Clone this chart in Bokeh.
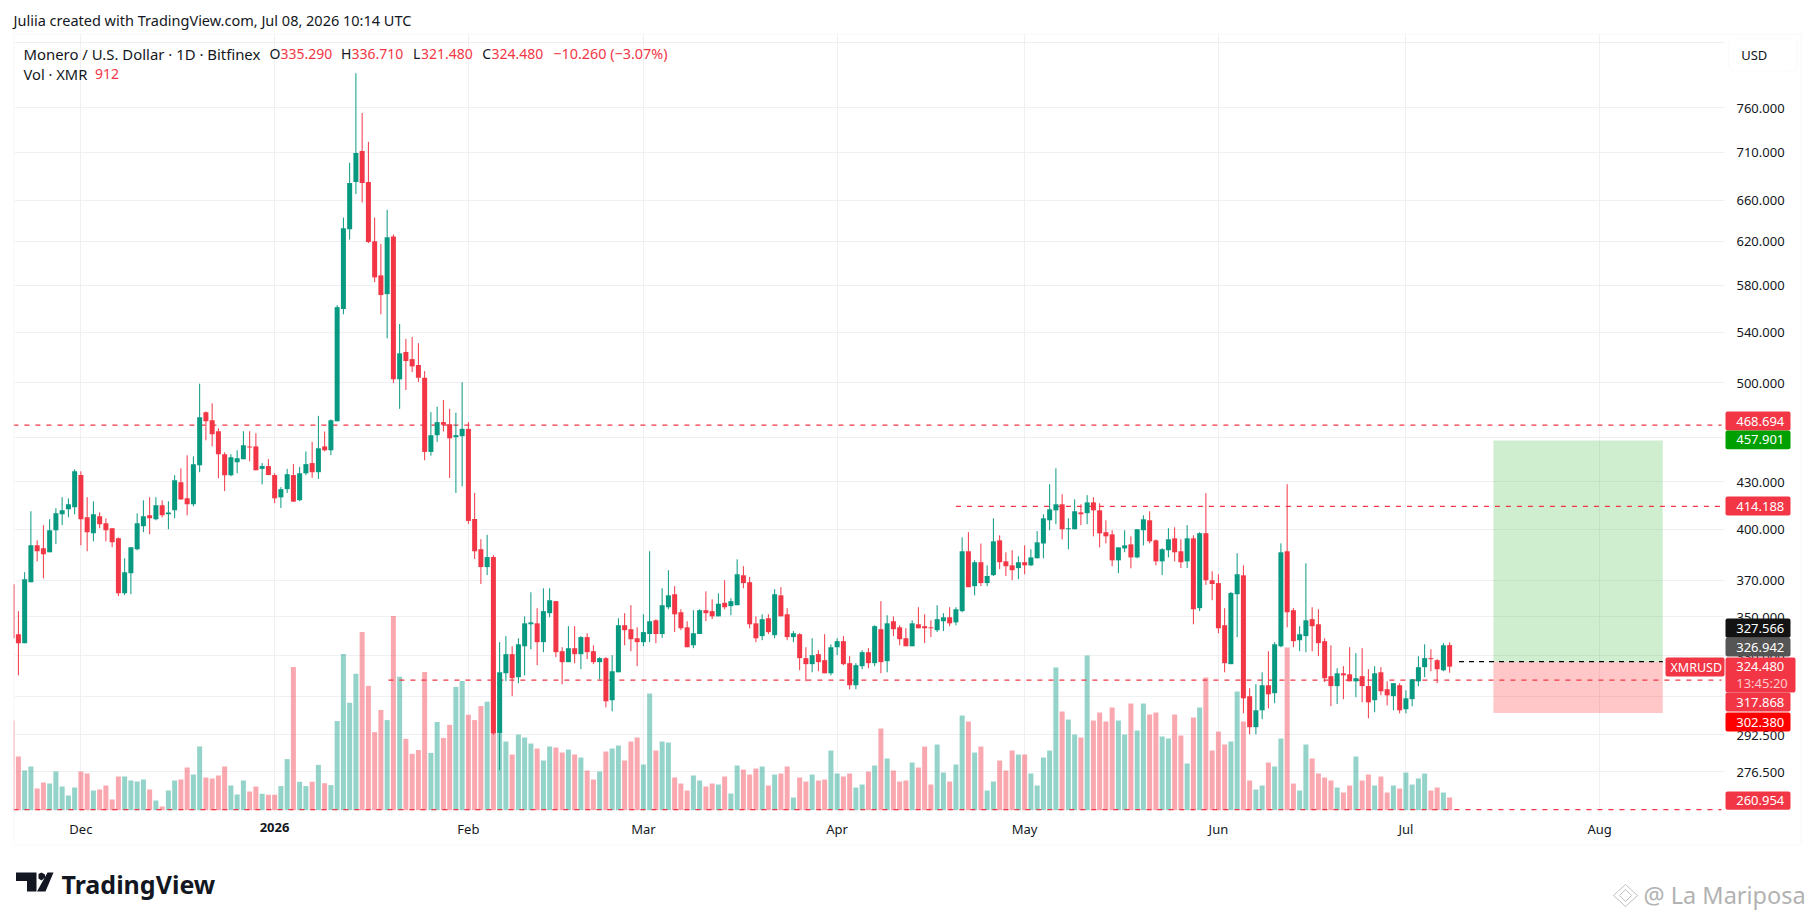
from math import exp
from bokeh.plotting import figure
from bokeh.models import (Range1d, LinearScale, FixedTicker, PrintfTickFormatter, Label, BoxAnnotation,
                          PolyAnnotation, ColumnDataSource)
from bokeh.embed import file_html
from bokeh.resources import INLINE

days = list(range(-11, 220))  # days counted from 1 Dec 2025

opens = [367.8,340.9,336.3,369,390.3,388.6,386.2,399.4,409.2,412.3,413.6,
434.4,407.4,397.6,408,403.7,400.6,394.5,362.9,374.1,388,
401.8,408.6,406.1,414.9,409.2,411.7,429.7,419.3,415.5,440.9,
478,472.2,464.4,448.4,434.3,443,445,453.8,453.8,438.5,
440.4,434.4,419.9,425.2,434.4,418.1,435.6,442.4,436.3,453.8,
451.1,471.5,559.4,631.7,678.8,711.6,678.8,620.3,588.8,572.2,
624.8,502.6,524,518.3,513.7,503.8,450,461.6,470.9,469.4,
460.2,460.9,466.1,406.3,388,377.6,383.4,293.2,321.2,330.7,
319.3,334.7,346.1,346.6,336.8,352,358.5,332.2,326.7,333.7,
330.7,339.4,332.2,326.7,328.7,308.3,321.7,345.6,343.5,338.8,
336.8,341,348.2,341,355.2,362.3,352.5,344.5,335.2,341,
353.6,353.1,350.3,357.6,355.8,356.3,372.9,369,346.6,339.9,
349.3,340.4,361.7,351.4,339.4,340.9,328.7,325.7,330.7,327.7,
321.2,334.2,337.3,326.2,315.4,324.7,331.7,326.2,343.5,327.2,
347.7,344.5,338.8,334.7,346.1,345.1,344.5,343,347.7,349.8,
347.1,353.1,386.8,366.8,380.4,368.5,373,393.3,380.9,378.6,
377,380.4,378.6,382.7,391.4,405.5,411.7,415.5,400,400,
410.4,409.9,416.7,411.7,398.2,396.9,381.5,388.5,390.9,383.2,
399.4,405.5,393.3,380.9,387.4,394.5,386.8,380.9,394.5,354.7,
397.6,370.1,368.5,345.6,325.7,362.3,372.9,310.2,295.9,303.6,
315.4,311.6,334.7,386.8,353.6,337.8,339.9,348.8,346.1,337.3,
319.8,315,321.2,320.7,317.3,319.8,315,308.3,321.7,313.5,
310.2,315.4,304.1,308.8,317.3,324.2,328.7,327.7,322.7,335.29]

highs = [367.8,353.1,374.7,411.1,393.3,402.5,406.1,413,420,419.3,438.3,
436.9,420,417.4,410.4,406.7,400.6,395.1,382.7,389.2,409.8,
418,420,420,418,417.4,434.3,438.9,447.7,446.9,499.3,
478.6,484.6,466.5,449.7,448.4,451.1,464.4,464.4,463,442.4,
445.1,435.6,426.5,438.5,441.7,439.8,450.3,456.9,475.4,464.2,
472.9,562.7,643,699,801.1,753.9,721.6,643,617.7,650.6,
626.6,546.8,534.5,536,531,508.9,478.1,482,487,480.5,
477.7,500.4,470.9,422.7,394,396.6,384.6,336.8,339.9,334.7,
338.8,350.3,363.4,354.7,365.6,365.6,358.5,334.2,345.1,345.1,
339.9,341.4,335.2,329.2,329.2,330.2,349.3,352,356.3,344.5,
351.4,386.8,348.8,365.6,375.8,366.8,354.1,347.7,353.6,354.1,
363.9,359.5,362.8,370.1,360.1,382.1,378.1,372,350.3,351.4,
351.4,365.1,366.2,354.7,342.5,341.4,334.2,338.8,332.7,340.9,
335.7,338.8,339.9,329.7,326.2,332.7,333.7,345.6,358.5,350.9,
350.3,345.6,344,348.2,355.2,351.4,348.2,356.3,352,355.2,
355.2,395.1,398.2,381.5,391.4,378.6,406.7,396.3,386.2,387.4,
383.8,390.3,388,398.8,409.2,428.4,438.9,421.9,406.7,418.6,
415.5,421.3,420,416.1,405.5,399.4,389.1,399.4,395.7,400,
408.6,411.1,393.9,388.6,400.6,401.2,393.9,402.5,396.3,398.2,
422.6,375.2,373.5,354.7,363.6,385.6,378.6,314,315.9,321.7,
332.2,336.8,391.5,428.4,354.7,345.1,379.8,355.2,354.1,338.8,
335.2,323.7,324.7,334.2,331.2,333.7,323.2,324.7,324.2,317.3,
316.4,316.4,313,318.3,329.7,335.7,333.2,328.2,336.3,336.71]

lows = [338.8,320.2,336.3,369,380.9,371.2,386.2,391,402.5,407.4,409.2,
390.3,386.8,392.7,400.6,392.7,389.2,361.3,361.8,362.3,387.4,
398.2,397,405.5,407.4,400,406.7,418.6,408.6,414.2,436.3,
458,453.8,432.3,423.9,433.6,435.6,445,443.6,437.6,428.3,
434.4,416.2,413.2,422.7,416.9,417.5,434.4,432.5,431.9,450.4,
447.8,471.5,554.9,621.8,666.4,658,618.5,582.9,554.9,535,
499.7,480.5,494.5,508.1,500.5,444.3,447.4,456.9,464.2,432.5,
422.7,427,403.3,382.3,368,373,292.5,277.1,317.3,310.2,
316.4,320.2,333.2,325.2,331.7,349.8,329.2,315.9,326.7,326.2,
323.2,328.2,325.7,318.3,305,303.1,321.7,335.2,332.2,324.7,
334.7,336.8,336.3,339,354.1,342,343,334.2,333.7,341,
347.7,348.8,350.3,354.1,350.9,356.3,365.6,344,336.8,337.8,
341,338.8,350.3,337.8,336.8,322.7,317.3,321.7,322.2,321.2,
320.2,330.2,325.2,313.5,313.5,323.2,323.7,324.7,321.2,321.7,
339.9,335.2,334.7,334.7,344,336.3,339.4,342,342.5,345.1,
345.6,352.5,366.2,361.7,366.8,366.8,372.5,376.4,372.5,370.1,
370.7,373.5,378.1,382.7,382.7,399.4,403.1,393.9,388,400,
402.5,403.1,395.7,389.1,391.5,378.1,374.1,386.2,376.9,382.7,
390.3,391.5,378.6,373,383.2,380.9,377,377,346.1,353.1,
367.5,359,341.4,321.7,325.7,339.4,302.2,292.7,292.7,299.5,
304.5,306.9,334.2,344.5,334.2,332.2,331.7,332.2,329.7,316.9,
305.5,306.5,308.8,317.3,309.7,307.3,299.9,302.7,310.6,305.9,
303.6,302.2,302.2,305.5,314.9,319.3,322.2,316.4,322.2,321.48]

closes = [338.8,336.3,370.6,390.3,386.8,385,399.4,409.8,411.7,415.5,436.9,
406.1,398.2,409.2,403.1,399.4,392.1,362.9,374.7,389.2,403.7,
408,406.7,414.9,408.6,410.4,431,418.6,415.5,441.6,474.4,
471.5,462.3,448.4,434.3,446.3,445.6,454.5,453.1,437.6,440.4,
434.4,419.3,425.2,435,417.2,435.6,441.7,436.3,452.5,451.1,
472.2,561,632.7,677.8,709.4,677.8,619.4,587,571.4,623.9,
502.6,522.9,516.8,512.6,503.8,450,461.6,470.9,469,459.4,
461.6,466.1,405.1,386.8,377.6,383.4,293.2,321.7,330.7,318.8,
335.7,346.6,347.1,336.8,353.1,359,331.7,326.7,333.7,330.7,
339.4,331.7,326.7,328.7,307.8,322.2,345.6,343,338.3,336.8,
342,347.7,341,356.3,361.7,351.4,344,334.2,341.4,353.6,
352,350.3,357.1,355.2,358.5,373.5,368.5,346.1,338.8,348.8,
342,362.3,350.3,339.4,341.4,328.7,325.7,330.2,326.7,321.2,
334.2,337.3,325.7,315.4,325.2,331.7,326.2,345.1,326.7,346.6,
343.5,338.3,334.7,346.6,344,344,344,348.8,349.8,346.6,
354.1,386.8,366.2,380.4,368.5,372.5,392.7,380.4,378.1,375.8,
380.4,378.6,383.2,392.1,406.7,412.3,415.5,400,400.6,411.1,
409.2,416.7,411.7,397.5,395.7,381.5,389.1,390.3,383.2,400,
406.1,392.7,380.9,388,393.9,386.2,380.4,394.5,354.1,397.6,
370.1,368,344,326.2,363,373.5,309.2,295.9,303.6,315.4,
311.1,335.7,386.2,352.5,337.3,340.9,348.2,345.1,336.3,318.8,
315,321.2,320.2,317.3,318.8,315,307.3,321.2,312.5,310.6,
316.4,303.6,309.2,318.3,324.2,328.7,328.2,323.2,335.2,324.48]

volumes = [6456,3864,2856,3144,1560,1992,1920,2784,1704,1056,1632,
2784,2640,1416,1488,1776,768,2424,2424,2136,2064,
2208,1488,696,264,1416,2136,2208,3072,2568,4584,
2352,2280,2496,3144,1776,1128,2136,1344,1704,1180,
1110,1110,1735,3678,10306,2047,1735,2047,3262,1943,
1804,6420,11243,7738,9820,12839,8953,5621,7218,6489,
13984,9612,5136,4060,4338,9959,4129,6350,5205,6142,
8883,9300,6871,6489,7495,7808,11035,5520,4944,4008,
5448,5232,4800,4440,3576,4584,4512,4152,4368,4008,
3792,2856,2208,2784,4224,4440,4656,3576,4944,5232,
3288,8400,4296,4944,4872,2352,1920,1416,2496,2136,
1704,1920,1848,2424,1200,3216,2928,2568,3000,3144,
1776,2568,2640,3144,912,2352,2064,2568,2136,2208,
4296,2640,2424,2640,1632,1848,2784,3216,5880,3720,
2856,2064,2136,3432,3072,4584,1848,4728,2712,2064,
3288,6816,6384,4152,4584,1416,2064,3576,2856,4296,
4008,4008,2640,1776,3792,4296,10272,7104,6528,5448,
5232,11136,6456,7032,6384,7392,6456,5448,7680,5736,
7680,6888,7032,5304,5160,6888,5376,3360,6672,7392,
9552,4296,5664,4728,4944,8544,6384,2136,1488,1776,
3432,3144,5160,11712,1920,1416,4728,3720,2640,2352,
2136,1632,1272,1776,3864,2136,2568,1776,2424,1272,
1776,1560,2712,1848,2280,2640,1416,1632,1272,912]

price_ticks = [840, 760, 710, 660, 620, 580, 540, 500, 460, 430, 400, 370, 350, 330, 310, 292.5, 276.5]
month_days = [0, 31, 62, 90, 121, 151, 182, 212, 243]
month_labels = ["Dec", " ", "Feb", "Mar", "Apr", "May", "Jun", "Jul", "Aug"]

level_prices = [468.694, 414.188, 317.868, 260.954]
level_from = [-10.8, 140.0, 49.2, -10.8]
entry_price, target_price, stop_price = 326.942, 457.901, 302.380
box_from, box_to, entry_line_from = 226.0, 253.1, 220.5

RED, GREEN, INK = "#F23645", "#089981", "#131722"
FONT = "Noto Sans"
W, H = 1810, 916

# page pixel -> data helpers: the plotting frame fills the page, so furniture is placed in page terms
def xd(px): return (px - 80.4) / 6.25
def yp(py): return 760 * exp(-(py - 107.3) / 656.6)

p = figure(width=W, height=H, output_backend="svg", toolbar_location=None,
           x_range=Range1d(xd(0), xd(W)), y_range=Range1d(yp(H), yp(0)),
           y_axis_type="log", y_axis_location="right",
           min_border_left=0, min_border_right=0, min_border_top=0, min_border_bottom=0)
p.outline_line_color = None
p.background_fill_color = "white"
p.extra_y_ranges = {"vol": Range1d(-(H - 809.7) * 72, 809.7 * 72)}
p.extra_y_scales = {"vol": LinearScale()}

for g in (p.xgrid, p.ygrid):
    g.grid_line_color = "#eff0f3"
    g.grid_line_width = 1
p.xgrid.ticker = FixedTicker(ticks=month_days)
p.ygrid.ticker = FixedTicker(ticks=price_ticks)
p.xgrid.cross_bounds = (yp(811), yp(34))
p.ygrid.cross_bounds = (xd(14), xd(1724))

ax = p.xaxis[0]
ax.fixed_location = yp(811)
ax.ticker = FixedTicker(ticks=month_days)
ax.major_label_overrides = dict(zip(month_days, month_labels))
ax.axis_line_color = None
ax.major_tick_line_color = None
ax.minor_tick_line_color = None
ax.major_label_text_font = FONT
ax.major_label_text_font_size = "13px"
ax.major_label_text_color = INK
ax.major_label_standoff = 2

ay = p.yaxis[0]
ay.fixed_location = xd(1724)
ay.ticker = FixedTicker(ticks=price_ticks)
ay.formatter = PrintfTickFormatter(format="%.3f")
ay.major_label_overrides = {840: " "}
ay.axis_line_color = None
ay.major_tick_line_color = None
ay.minor_tick_line_color = None
ay.major_label_text_font = FONT
ay.major_label_text_font_size = "13px"
ay.major_label_text_color = INK
ay.major_label_standoff = 6

colors = [GREEN if c >= o else RED for o, c in zip(opens, closes)]
src = ColumnDataSource(dict(d=days, o=opens, h=highs, l=lows, c=closes, v=volumes, color=colors,
                            top=[max(a, b) for a, b in zip(opens, closes)],
                            bot=[min(a, b) for a, b in zip(opens, closes)]))

p.vbar(x="d", width=0.8, bottom=0, top="v", source=src, y_range_name="vol",
       fill_color="color", fill_alpha=0.43, line_color=None)

p.quad(left=[box_from], right=[box_to], bottom=[entry_price], top=[target_price],
       fill_color="#00A000", fill_alpha=0.19, line_color=None)
p.quad(left=[box_from], right=[box_to], bottom=[stop_price], top=[entry_price],
       fill_color="#FF0000", fill_alpha=0.22, line_color=None)

p.segment(x0=level_from, x1=[xd(1721)] * len(level_prices), y0=level_prices, y1=level_prices,
          line_color=RED, line_width=1.3, line_dash="5 6")
p.segment(x0=[entry_line_from], x1=[box_to], y0=[entry_price], y1=[entry_price],
          line_color="#000000", line_width=1.2, line_dash="5 5")

p.segment(x0="d", x1="d", y0="l", y1="h", source=src, line_color="color", line_width=1)
p.vbar(x="d", width=0.8, bottom="bot", top="top", source=src, fill_color="color", line_color=None)

def text(px, py, s, color=INK, size="13px", style="normal", align="left", font=FONT, alpha=1.0):
    p.add_layout(Label(x=xd(px), y=yp(py), text=s, text_color=color, text_font=font, text_font_size=size,
                       text_font_style=style, text_align=align, text_baseline="middle", text_alpha=alpha))

def box(x0, x1, y0, y1, fill, line=None, radius=2, alpha=1.0, width=1):
    p.add_layout(BoxAnnotation(left=xd(x0), right=xd(x1), top=yp(y0), bottom=yp(y1), fill_color=fill,
                               fill_alpha=alpha, line_color=line, line_width=width, border_radius=radius,
                               level="annotation"))

# the first candle is cut by the edge of the chart
box(0, 13, 34, 843, "#ffffff", radius=0)
# outer frame of the chart
box(13.5, 1800.5, 33.5, 844, "#ffffff", line="#f0f1f3", radius=0, alpha=0, width=2)

# header and legend
text(13, 19, "Juliia created with TradingView.com, Jul 08, 2026 10:14 UTC", size="14.5px")
text(23, 53, "Monero / U.S. Dollar · 1D · Bitfinex", size="14.9px")
for lx, ch, vx, val in [(269, "O", 280, "335.290"), (340.6, "H", 351, "336.710"),
                        (412.5, "L", 420.5, "321.480"), (481.7, "C", 491, "324.480")]:
    text(lx, 53, ch, size="14px")
    text(vx, 53, val, color=RED, size="14px")
text(552.7, 53, "−10.260 (−3.07%)", color=RED, size="14.4px")
text(23, 73.5, "Vol · XMR", size="14.7px")
text(94.6, 73.5, "912", color=RED, size="14px")
text(274, 826.5, "2026", style="bold", align="center")

# currency button
box(1728, 1797, 38, 70.5, "#ffffff", line="#eceef1", radius=6)
text(1740.7, 54, "USD")

# price badges
badges = [(411, 430, RED, "468.694"), (430, 448.7, "#00A000", "457.901"), (496, 515, RED, "414.188"),
          (618, 637.3, "#131313", "327.566"), (637.3, 656, "#555555", "326.942"),
          (692, 711, RED, "317.868"), (712, 731, "#FF0000", "302.380"), (791, 809.3, RED, "260.954")]
for y0, y1, col, s in badges:
    box(1725, 1790, y0, y1, col)
    text(1735.7, (y0 + y1) / 2, s, color="#ffffff")
box(1725, 1795, 657, 692, RED)
text(1735.7, 666, "324.480", color="#ffffff")
text(1735.7, 682, "13:45:20", color="#ffc9cd")
box(1665, 1724, 657, 676, RED)
text(1670, 666.5, "XMRUSD", color="#ffffff", size="12.5px")

# brand mark
def poly(points, fill, line=None, alpha=1.0):
    p.add_layout(PolyAnnotation(xs=[xd(a) for a, _ in points], ys=[yp(b) for _, b in points],
                                fill_color=fill, fill_alpha=alpha, line_color=line, line_alpha=alpha,
                                level="annotation"))
poly([(15.5, 872), (36, 872), (36, 891), (26.5, 891), (26.5, 880.5), (15.5, 880.5)], INK)
poly([(38, 873.5), (41, 872), (44.5, 874), (44.5, 877), (41, 880), (38, 878)], INK)
poly([(47, 872), (53, 872), (45, 891), (36.5, 891)], INK)
text(61, 883, "TradingView", size="25px", style="bold", font="Noto Sans")

# watermark
poly([(1625, 884), (1637, 895), (1625, 906), (1613, 895)], "#ffffff", line="#b8b8b8", alpha=0.9)
poly([(1625, 889), (1631, 895), (1625, 901), (1619, 895)], "#ffffff", line="#b8b8b8", alpha=0.9)
text(1643, 894, "@ La Mariposa", color="#b2b2b2", size="23.5px")

open("out.html", "w").write(file_html(p, INLINE))
